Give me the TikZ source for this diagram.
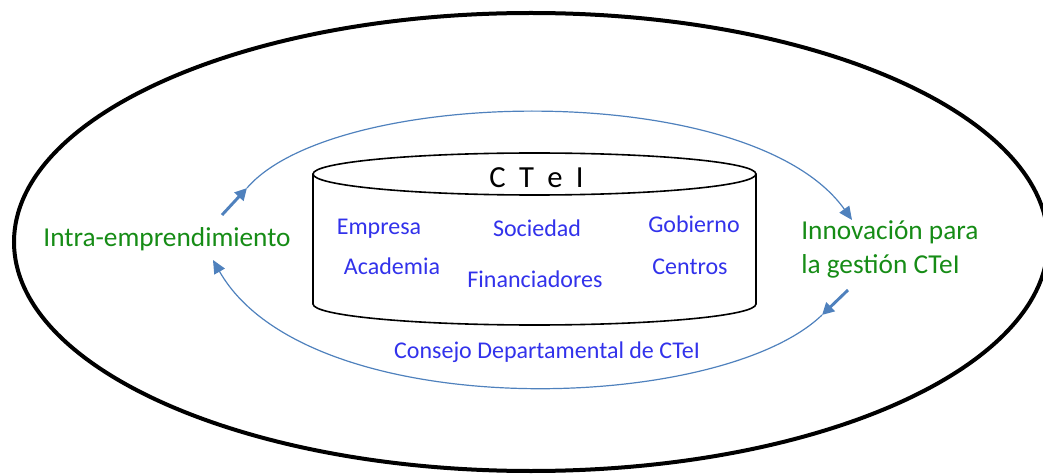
\documentclass[tikz,border=0pt]{standalone}
\usepackage{fontspec}
\setmainfont{Carlito}
\usepackage{tikz}
\usetikzlibrary{arrows.meta}
\definecolor{verdeCTeI}{RGB}{22,140,22}
\definecolor{azulTexto}{RGB}{50,50,235}
\definecolor{azulFlecha}{RGB}{79,129,189}

\begin{document}
\begin{tikzpicture}[x=0.75pt,y=0.75pt,yscale=-1,xscale=1,
  actor/.style={text=azulTexto,font=\fontsize{18}{21}\selectfont,inner sep=0.75pt,anchor=base},
  ciclo/.style={text=verdeCTeI,font=\fontsize{20.5}{24.75}\selectfont,inner sep=0.75pt},
  flujo/.style={draw=azulFlecha,line width=0.9pt,-{Triangle[length=10pt,width=9pt]}},
  punta/.style={draw=azulFlecha,line width=2.2pt,-{Triangle[length=9pt,width=9pt]}}]
\useasboundingbox (0,0) rectangle (1043,474);

%Shape: Ellipse outer
\draw  [line width=3pt] (531,242) ellipse [x radius=517, y radius=229] ;
%Shape: Can
\draw  [line width=1.2pt,fill=white] (313,174) -- (313,304) arc [start angle=180, end angle=0, x radius=221.5, y radius=21] -- (756,174) ;
\draw  [line width=1.2pt,fill=white] (534.5,174) ellipse [x radius=221.5, y radius=21] ;

% Arc ends
\coordinate (arrIzq) at (222,215);
\coordinate (arcSupIni) at (247,188);
\coordinate (arcSupFin) at (852,220);
\coordinate (arrDer) at (848,290);
\coordinate (arcInfIni) at (822,315);
\coordinate (arcInfFin) at (213,260);

%Shape: Arc upper
\draw  [flujo] (arcSupIni) .. controls (335,86) and (751,78) .. (arcSupFin) ;
%Shape: Arc lower
\draw  [flujo] (arcInfIni) .. controls (718,415) and (307,425) .. (arcInfFin) ;
%Shape: Arrow stubs
\draw  [punta] (arrIzq) -- (arcSupIni) ;
\draw  [punta] (arrDer) -- (arcInfIni) ;

% Text Node
\node (ctei) at (536.5,188) [anchor=base,inner sep=0.75pt,font=\fontsize{23}{28}\selectfont] {C\kern10pt T\kern10pt e\kern10pt I};
% Text Node
\node (empresa) at (379,234) [actor] {Empresa};
% Text Node
\node (sociedad) at (537,237) [actor] {Sociedad};
% Text Node
\node (gobierno) at (694,233) [actor] {Gobierno};
% Text Node
\node (academia) at (392,275) [actor] {Academia};
% Text Node
\node (financiadores) at (535,287) [actor] {Financiadores};
% Text Node
\node (centros) at (690,274) [actor] {Centros};
% Text Node
\node (consejo) at (547,358) [actor] {Consejo Departamental de CTeI};
% Text Node
\node (intra) at (167,247) [ciclo,anchor=base] {Intra-emprendimiento};
% Text Node
\node (innovacion) at (800,273) [ciclo,anchor=base west,align=left] {Innovación para\\la gestión CTeI};

\end{tikzpicture}
\end{document}
